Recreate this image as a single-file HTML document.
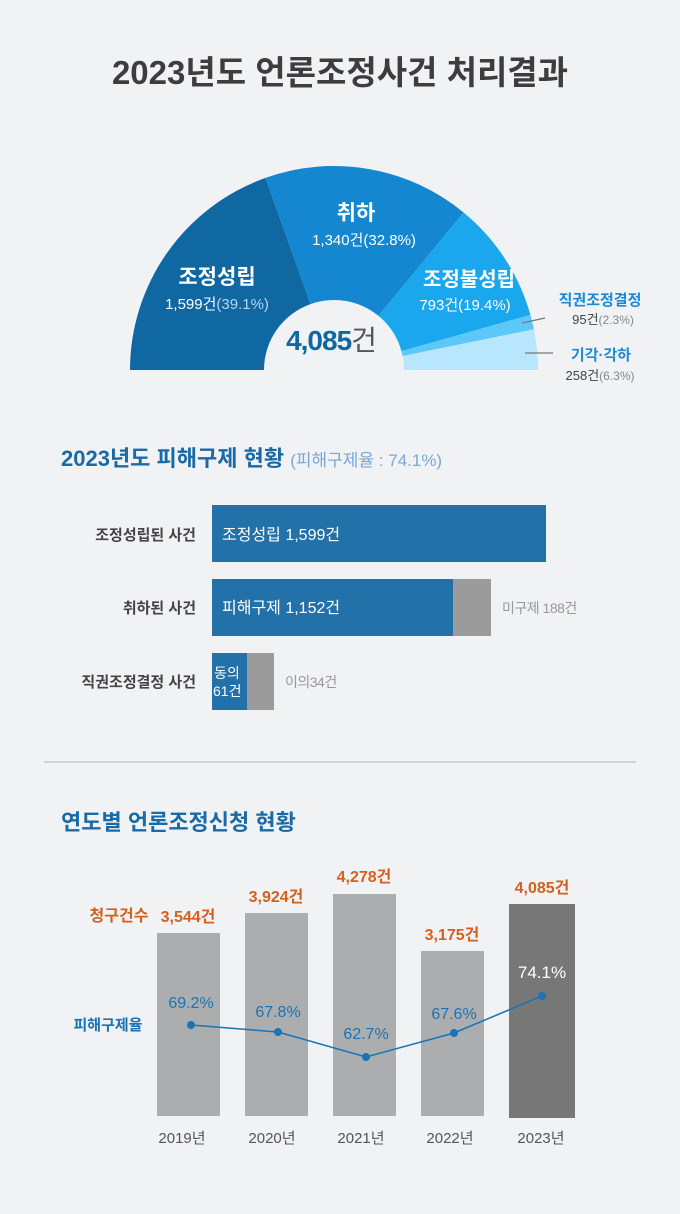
<!DOCTYPE html>
<html><head><meta charset="utf-8"><style>
html,body{margin:0;padding:0;background:#f1f2f4;}
body{width:680px;height:1209px;overflow:hidden;font-family:"Liberation Sans","Noto Sans CJK KR",sans-serif;}
</style></head><body>
<svg width="680" height="1209" viewBox="0 0 680 1209" xmlns="http://www.w3.org/2000/svg" font-family="Liberation Sans, Noto Sans CJK KR, sans-serif">
<rect width="680" height="1209" fill="#f1f2f4"/>
<text x="340" y="84" text-anchor="middle" font-size="33" font-weight="bold" fill="#3d3d3d">2023년도 언론조정사건 처리결과</text>
<!-- pie -->
<path d="M130,370 A204,204 0 0 1 265.5,177.9 L310.5,304.1 A70,70 0 0 0 264,370 Z" fill="#1068a3"/>
<path d="M265.5,177.9 A204,204 0 0 1 463.6,212.5 L378.5,315.9 A70,70 0 0 0 310.5,304.1 Z" fill="#1487d0"/>
<path d="M463.6,212.5 A204,204 0 0 1 530.4,314.9 L401.4,351.1 A70,70 0 0 0 378.5,315.9 Z" fill="#1ba7ee"/>
<path d="M530.4,314.9 A204,204 0 0 1 533.9,329.3 L402.6,356 A70,70 0 0 0 401.4,351.1 Z" fill="#5cc8f8"/>
<path d="M533.9,329.3 A204,204 0 0 1 538,370 L404,370 A70,70 0 0 0 402.6,356 Z" fill="#b8e6fc"/>
<text x="217" y="284" text-anchor="middle" font-size="21" font-weight="bold" fill="#fff">조정성립</text>
<text x="217" y="309" text-anchor="middle" font-size="15" fill="#fff">1,599건<tspan fill="#b9d3f0">(39.1%)</tspan></text>
<text x="356" y="220" text-anchor="middle" font-size="21" font-weight="bold" fill="#fff">취하</text>
<text x="364" y="245" text-anchor="middle" font-size="15" fill="#fff">1,340건(32.8%)</text>
<text x="469" y="286" text-anchor="middle" font-size="20" font-weight="bold" fill="#fff">조정불성립</text>
<text x="465" y="310" text-anchor="middle" font-size="15" fill="#fff">793건(19.4%)</text>
<text x="331" y="350" text-anchor="middle" font-size="28" font-weight="bold" fill="#1068a3" letter-spacing="-1">4,085<tspan font-weight="normal" fill="#555">건</tspan></text>
<line x1="522" y1="323" x2="545" y2="318" stroke="#777" stroke-width="1.2"/>
<text x="600" y="305" text-anchor="middle" font-size="15" font-weight="bold" fill="#1a8ad4">직권조정결정</text>
<text x="603" y="324" text-anchor="middle" font-size="13" fill="#444">95건<tspan fill="#888" font-size="12">(2.3%)</tspan></text>
<line x1="525" y1="353" x2="553" y2="353" stroke="#777" stroke-width="1.2"/>
<text x="601" y="360" text-anchor="middle" font-size="15" font-weight="bold" fill="#1a8ad4">기각·각하</text>
<text x="600" y="380" text-anchor="middle" font-size="13" fill="#444">258건<tspan fill="#888" font-size="12">(6.3%)</tspan></text>
<!-- section 2 -->
<text x="61" y="466" font-size="22" font-weight="bold" fill="#1a6aa5">2023년도 피해구제 현황 <tspan font-size="17" font-weight="normal" fill="#7aa7d4">(피해구제율 : 74.1%)</tspan></text>
<text x="196" y="540" text-anchor="end" font-size="15" font-weight="bold" fill="#444">조정성립된 사건</text>
<rect x="212" y="505" width="334" height="57" fill="#2271a8"/>
<text x="222" y="540" font-size="16" fill="#fff">조정성립 1,599건</text>
<text x="196" y="613" text-anchor="end" font-size="15" font-weight="bold" fill="#444">취하된 사건</text>
<rect x="212" y="579" width="241" height="57" fill="#2271a8"/>
<rect x="453" y="579" width="38" height="57" fill="#9b9b9b"/>
<text x="222" y="613" font-size="16" fill="#fff">피해구제 1,152건</text>
<text x="502" y="613" font-size="14" fill="#999" letter-spacing="-0.5">미구제 188건</text>
<text x="196" y="687" text-anchor="end" font-size="15" font-weight="bold" fill="#444">직권조정결정 사건</text>
<rect x="212" y="653" width="35" height="57" fill="#2271a8"/>
<rect x="247" y="653" width="27" height="57" fill="#9b9b9b"/>
<text x="214" y="678" font-size="14" fill="#fff">동의</text>
<text x="213" y="696" font-size="14" fill="#fff">61건</text>
<text x="285" y="687" font-size="14" fill="#999" letter-spacing="-0.5">이의34건</text>
<line x1="44" y1="762" x2="636" y2="762" stroke="#c8c9cc" stroke-width="1.5"/>
<!-- section 3 -->
<text x="61" y="830" font-size="22" font-weight="bold" fill="#1a6aa5">연도별 언론조정신청 현황</text>
<rect x="157" y="933" width="63" height="183" fill="#acadaf"/>
<rect x="245" y="913" width="63" height="203" fill="#acadaf"/>
<rect x="333" y="894" width="63" height="222" fill="#acadaf"/>
<rect x="421" y="951" width="63" height="165" fill="#acadaf"/>
<rect x="509" y="904" width="66" height="214" fill="#777777"/>
<g font-size="16" font-weight="bold" fill="#d4601e" text-anchor="middle">
<text x="119" y="921">청구건수</text>
<text x="188" y="922">3,544건</text>
<text x="276" y="902">3,924건</text>
<text x="364" y="882">4,278건</text>
<text x="452" y="940">3,175건</text>
<text x="542" y="893">4,085건</text>
</g>
<polyline points="191,1025 278,1032 366,1057 454,1033 542,996" fill="none" stroke="#1a73b5" stroke-width="1.5"/>
<g fill="#1a73b5">
<circle cx="191" cy="1025" r="4"/><circle cx="278" cy="1032" r="4"/><circle cx="366" cy="1057" r="4"/><circle cx="454" cy="1033" r="4"/><circle cx="542" cy="996" r="4"/>
</g>
<g font-size="16" fill="#1a73b5" text-anchor="middle">
<text x="191" y="1008">69.2%</text>
<text x="278" y="1017">67.8%</text>
<text x="366" y="1039">62.7%</text>
<text x="454" y="1019">67.6%</text>
<text x="542" y="978" fill="#fff" font-size="17">74.1%</text>
</g>
<text x="108" y="1030" text-anchor="middle" font-size="15" font-weight="bold" fill="#1a73b5">피해구제율</text>
<g font-size="15" fill="#555" text-anchor="middle">
<text x="182" y="1143">2019년</text>
<text x="272" y="1143">2020년</text>
<text x="361" y="1143">2021년</text>
<text x="450" y="1143">2022년</text>
<text x="541" y="1143">2023년</text>
</g>
</svg>
</body></html>
